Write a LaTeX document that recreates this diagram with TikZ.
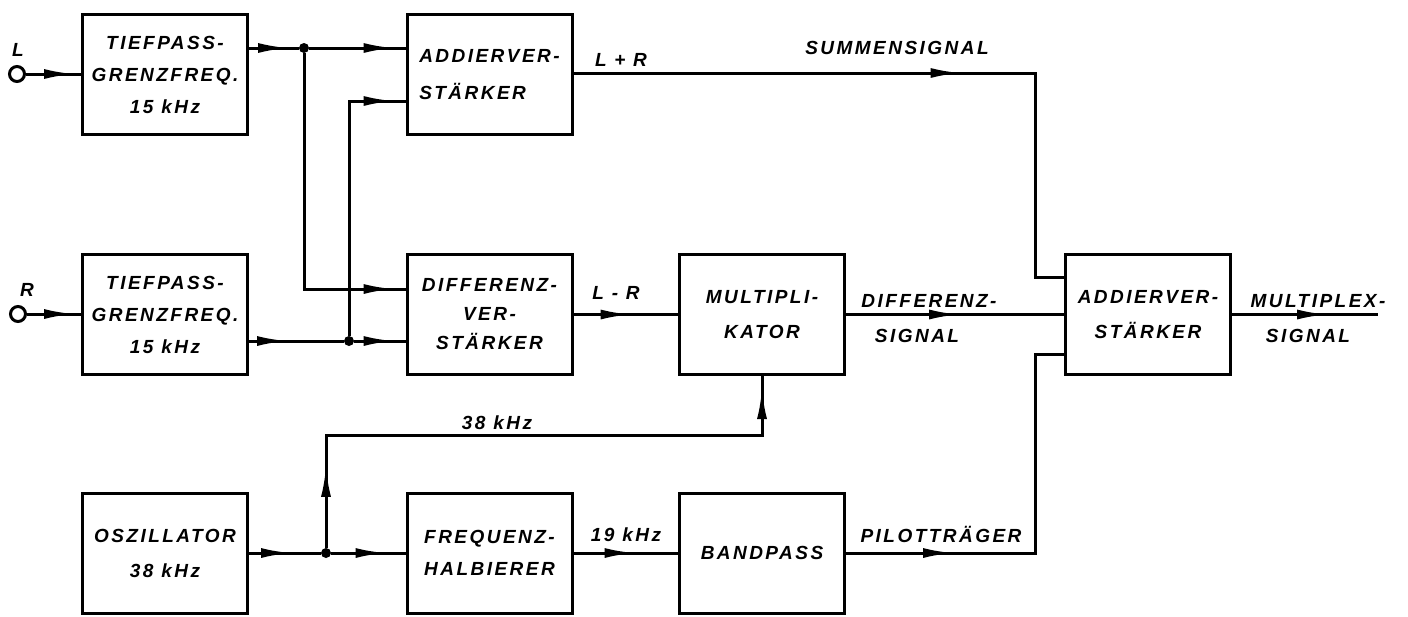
\documentclass[tikz,border=0pt]{standalone}
\usepackage{fontspec}
\setmainfont{Liberation Sans}
\newfontfamily\letterfont[LetterSpace=13]{Liberation Sans}
\usetikzlibrary{arrows.meta,decorations.markings}

\tikzset{
  every picture/.style = {line join=miter},
  lettering/.style     = {font=\letterfont\bfseries\itshape\fontsize{19}{32}\selectfont},
  block/.style         = {draw, line width=3pt, minimum width=165pt, minimum height=120pt,
                          inner sep=0pt, align=center, lettering},
  wire/.style          = {line width=3pt},
  dart/.style          = {postaction={decorate, decoration={markings,
                          mark=at position #1 with {\arrow{Latex[length=31pt,width=10pt]}}}}},
  joint/.style         = {circle, fill, inner sep=0pt, minimum size=10pt},
  terminal/.style      = {circle, draw, line width=3pt, inner sep=0pt, minimum size=15pt},
  tag/.style           = {inner sep=0pt, lettering},
}

\begin{document}
\begin{tikzpicture}[x=1pt, y=-1pt]
  \fill[white] (0,0) rectangle (1408,616);
  \useasboundingbox (0,0) rectangle (1408,616);

  % ---------- blocks: three rows ---------------------------------------------
  \node[block] (tpl)  at (165,74.5)   {TIEFPASS-\\GRENZFREQ.\\15 kHz};
  \node[block, align=left] (addl) at (489.5,74.5) {ADDIERVER-\\[5pt]STÄRKER};

  \node[block] (tpr)    at (165,314.5)  {TIEFPASS-\\GRENZFREQ.\\15 kHz};
  \node[block] (diff)   at (489.5,314.5) {DIFFERENZ-\\[-3pt]VER-\\[-3pt]STÄRKER};
  \node[block] (mult)   at (762,314.5)  {MULTIPLI-\\[3pt]KATOR};
  \node[block] (addout) at (1148,314.5) {ADDIERVER-\\[3pt]STÄRKER};

  \node[block] (osc) at (165,553)   {OSZILLATOR\\[3pt]38 kHz};
  \node[block] (fh)  at (489.5,553) {FREQUENZ-\\HALBIERER};
  \node[block] (bp)  at (762,553)   {BANDPASS};

  % ---------- inputs, junctions ----------------------------------------------
  \node[terminal] (inL) at (17,74)  {};
  \node[terminal] (inR) at (18,314) {};
  \node[joint] (jl) at (304,48)  {};
  \node[joint] (jr) at (349,341) {};
  \node[joint] (jo) at (326,553) {};
  \coordinate (bus)    at (1035,0);
  \coordinate (outend) at (1378,314.5);

  \draw[wire, dart=-6pt] (inL) -- (tpl.west |- inL);
  \draw[wire, dart=-6pt] (inR) -- (tpr.west |- inR);

  % L and R to both amplifiers (the R line to the top crosses without a dot)
  \draw[wire, dart=40pt]  (tpl.east |- jl) -- (jl);
  \draw[wire, dart=-11pt] (jl) -- (addl.west |- jl);
  \draw[wire, dart=-11pt] (jl) |- (diff.west |- 0,289);
  \draw[wire, dart=39pt]  (tpr.east |- jr) -- (jr);
  \draw[wire, dart=-11pt] (jr) -- (diff.west |- jr);
  \draw[wire, dart=-11pt] (jr) |- (addl.west |- 0,101);

  % sum, difference and pilot into the output amplifier
  \draw[wire, dart=388pt] (addl.east |- 0,73) -| (bus |- 0,277) -- (addout.west |- 0,277);
  \draw[wire, dart=58pt]  (diff.east) -- (mult.west);
  \draw[wire, dart=114pt] (mult.east) -- (addout.west);
  \draw[wire, dart=108pt] (bp.east) -| (bus |- 0,354) -- (addout.west |- 0,354);
  \draw[wire, dart=-50pt] (addout.east) -- (outend);

  % oscillator: 38 kHz to the multiplier, halved to 19 kHz
  \draw[wire, dart=43pt]  (osc.east) -- (jo);
  \draw[wire, dart=-19pt] (jo) -- (fh.west);
  \draw[wire, dart=82pt, dart=-12pt] (jo) |- (mult.south |- 0,435) -- (mult.south);
  \draw[wire, dart=62pt]  (fh.east) -- (bp.west);

  % ---------- labels ----------------------------------------------------------
  \node[tag] (lblL)    at (18,50)   {L};
  \node[tag] (lblR)    at (27,290)  {R};
  \node[tag] (lblsum)  at (621,60)  {L + R};
  \node[tag] (lblsumsig) at (897,48) {SUMMENSIGNAL};
  \node[tag] (lbldif)  at (616,293) {L - R};
  \node[tag] (lbldifa) at (929,301) {DIFFERENZ-};
  \node[tag] (lbldifb) at (917,336) {SIGNAL};
  \node[tag] (lblmuxa) at (1318,301) {MULTIPLEX-};
  \node[tag] (lblmuxb) at (1308,336) {SIGNAL};
  \node[tag] (lbl38)   at (497,423) {38 kHz};
  \node[tag] (lbl19)   at (626,535) {19 kHz};
  \node[tag] (lblpilot) at (941,534) {PILOTTRÄGER};
\end{tikzpicture}
\end{document}
